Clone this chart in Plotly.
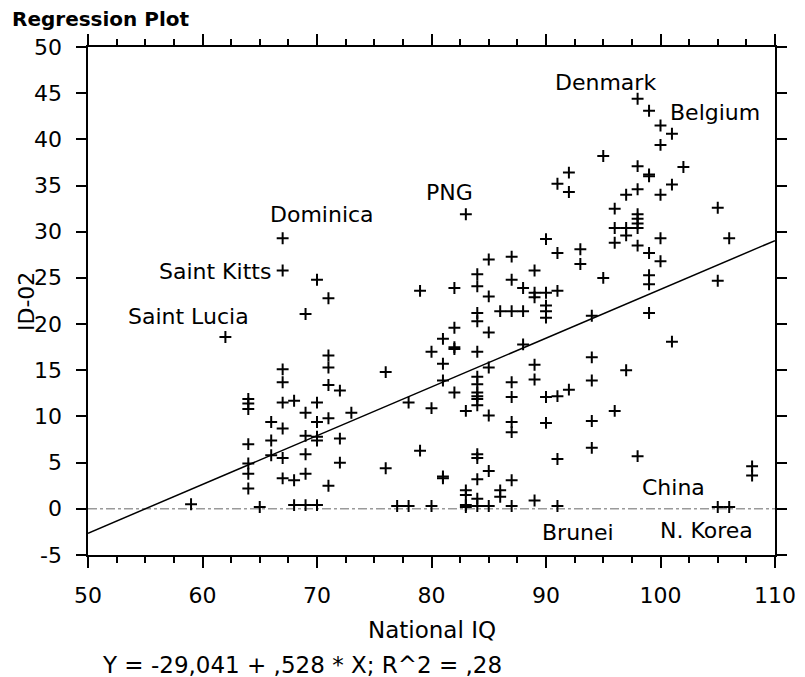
import numpy as np
import plotly.graph_objects as go

# ---- data (National IQ, ID-02) ----
iq = [67, 67, 70, 71, 69, 62, 71, 71, 67, 64, 64, 64, 64, 64, 64, 64, 59, 65,
      66, 66, 66, 67, 67, 68, 67, 67, 67, 68, 68, 69, 70, 69, 69, 69, 69, 70,
      70, 70, 70, 71, 72, 71, 72, 72, 71, 73,
      83, 85, 84, 84, 85, 79, 82, 84, 84, 86, 82, 85, 81, 80, 82, 82, 84, 81,
      85, 76, 81, 84, 84, 84, 84, 84, 84, 85, 82, 83, 80, 78, 79, 76, 81, 81,
      84, 84, 85, 84, 83, 83, 83, 83, 84, 84, 85, 86, 86, 77, 78, 80,
      95, 98, 99, 99, 98, 97, 92, 91, 92, 96, 98, 98, 98, 98, 96, 97, 97, 96,
      98, 99, 90, 91, 93, 93, 95, 87, 89, 87, 88, 89, 89, 90, 91, 90, 90, 90,
      87, 88, 99, 99, 99, 94,
      88, 89, 89, 87, 87, 87, 87, 90, 91, 92, 90, 94, 94, 97, 96, 94, 94, 91,
      98, 87, 87, 89, 91,
      98, 99, 100, 101, 100, 102, 101, 100, 105, 100, 106, 100, 105, 101,
      108, 108, 105, 106]
id02 = [29.3, 25.8, 24.8, 22.8, 21.1, 18.6, 16.6, 15.3, 15.1, 11.9, 11.4, 10.8,
        7.0, 4.9, 3.8, 2.2, 0.5, 0.2,
        9.4, 7.4, 5.8, 13.7, 11.5, 11.7, 8.7, 5.5, 3.3, 3.1, 0.4, 0.4, 0.4,
        10.4, 7.9, 5.9, 3.8, 11.5, 9.4, 7.8, 7.4, 13.4, 12.8, 9.8, 7.6, 5.0,
        2.5, 10.4,
        31.9, 27.0, 25.4, 24.1, 23.0, 23.6, 23.9, 21.2, 20.3, 21.4, 19.6, 19.1,
        18.4, 17.0, 17.5, 17.3, 17.0, 15.7, 15.3, 14.8, 13.9, 14.3, 13.5, 12.6,
        12.2, 11.9, 11.2, 10.1, 12.6, 10.6, 10.9, 11.5, 6.3, 4.4, 3.5, 3.3,
        5.9, 5.5, 4.1, 3.2, 2.0, 1.5, 0.4, 0.2, 1.1, 0.3, 0.3, 2.0, 1.3, 0.3,
        0.3, 0.3,
        38.2, 37.1, 36.2, 36.0, 34.6, 34.0, 36.4, 35.2, 34.3, 32.5, 31.9, 31.4,
        30.9, 30.4, 30.4, 30.4, 29.6, 28.8, 28.5, 27.7, 29.2, 27.7, 28.1, 26.5,
        25.0, 27.3, 25.8, 24.8, 23.9, 23.4, 22.9, 23.4, 23.6, 22.0, 21.4, 20.7,
        21.4, 21.4, 25.3, 24.3, 21.2, 20.9,
        17.8, 15.6, 14.0, 13.7, 12.1, 9.4, 8.3, 12.1, 12.2, 12.9, 9.3, 16.4,
        13.9, 15.0, 10.6, 9.5, 6.6, 5.4, 5.7, 3.1, 0.3, 0.9, 0.3,
        44.4, 43.1, 41.5, 40.6, 39.4, 37.0, 35.1, 34.0, 32.6, 29.3, 29.3, 26.8,
        24.7, 18.1, 4.6, 3.6, 0.2, 0.2]

# regression coefficients
intercept = -29.041
slope = 0.528

# labelled countries: text, x, y
label_text = ["Denmark", "Belgium", "PNG", "Dominica", "Saint Kitts",
              "Saint Lucia", "China", "N. Korea", "Brunei"]
label_x = [95.2, 104.8, 81.6, 70.4, 61.1, 58.75, 101.1, 104.0, 92.8]
label_y = [46.2, 42.9, 34.3, 31.9, 25.7, 20.8, 2.3, -2.4, -2.6]

x_ticks = [50, 60, 70, 80, 90, 100, 110]
y_ticks = [-5, 0, 5, 10, 15, 20, 25, 30, 35, 40, 45, 50]

FONT = "DejaVu Sans"

fig = go.Figure()

xline = np.array([50.0, 110.0])
fig.add_trace(go.Scatter(x=xline, y=intercept + slope * xline, mode="lines",
                         line=dict(color="black", width=1.5),
                         hoverinfo="skip", showlegend=False))

fig.add_trace(go.Scatter(x=iq, y=id02, mode="markers",
                         marker=dict(symbol="cross-thin", size=8.5,
                                     line=dict(color="black", width=2)),
                         showlegend=False))

fig.add_shape(type="line", xref="x", yref="y", x0=50, x1=110, y0=0, y1=0,
              line=dict(color="#9a9a9a", width=1.5, dash="dashdot"),
              layer="below")

for t, x, y in zip(label_text, label_x, label_y):
    fig.add_annotation(x=x, y=y, text=t, showarrow=False,
                       font=dict(family=FONT, size=22, color="black"),
                       xanchor="center", yanchor="middle")

axis_common = dict(showline=True, linecolor="black", linewidth=1.5,
                   mirror="allticks", ticks="outside", tickcolor="black",
                   tickwidth=1.5, showgrid=False, zeroline=False,
                   automargin=False,
                   tickfont=dict(family=FONT, size=22, color="black"))

fig.update_xaxes(range=[50, 110], tickvals=x_ticks,
                 ticktext=[str(v) for v in x_ticks], ticklen=11,
                 ticklabelstandoff=9,
                 minor=dict(dtick=2.5, ticks="outside", ticklen=6,
                            tickcolor="black", tickwidth=1.5, showgrid=False),
                 **axis_common)
fig.update_yaxes(range=[-5, 50], tickvals=y_ticks, ticklen=10,
                 showticklabels=False, **axis_common)

# y tick labels placed beside the axis
for v in y_ticks:
    fig.add_annotation(xref="paper", yref="y", x=-24 / 687, y=v,
                       text=str(v), showarrow=False,
                       font=dict(family=FONT, size=22, color="black"),
                       xanchor="right", yanchor="middle")

# axis titles and formula as annotations
fig.add_annotation(xref="paper", yref="paper", x=0.5, y=-75 / 508,
                   text="National IQ", showarrow=False,
                   font=dict(family=FONT, size=23, color="black"),
                   xanchor="center", yanchor="middle")
fig.add_annotation(xref="paper", yref="paper", x=-62 / 687, y=0.5,
                   text="ID-02", textangle=-90, showarrow=False,
                   font=dict(family=FONT, size=22, color="black"),
                   xanchor="center", yanchor="middle")
fig.add_annotation(xref="paper", yref="paper", x=12 / 687, y=-110 / 508,
                   text="Y = -29,041 + ,528 * X; R^2 = ,28", showarrow=False,
                   font=dict(family=FONT, size=23, color="black"),
                   xanchor="left", yanchor="middle")

fig.update_layout(
    width=805, height=677,
    margin=dict(l=88, r=30, t=47, b=122, pad=0, autoexpand=False),
    paper_bgcolor="white", plot_bgcolor="white",
    title=dict(text="<b>Regression Plot</b>", x=12 / 805, xanchor="left",
               y=1 - 19 / 677, yanchor="middle",
               font=dict(family=FONT, size=20, color="black")),
    showlegend=False,
)

fig.write_html("out.html", config={"displayModeBar": False},
               post_script="document.body.style.margin='0';"
                           "document.body.style.overflow='hidden';")
